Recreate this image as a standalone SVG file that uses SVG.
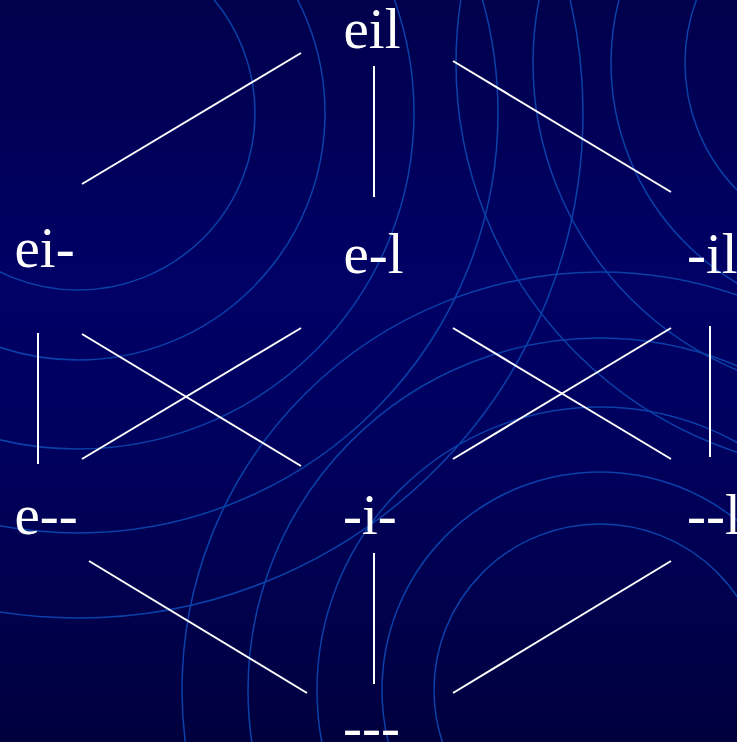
<svg xmlns="http://www.w3.org/2000/svg" width="737" height="742" viewBox="0 0 737 742">
  <defs>
    <linearGradient id="bg" x1="0" y1="0" x2="0" y2="1">
      <stop offset="0" stop-color="#00004c"/>
      <stop offset="0.38" stop-color="#000066"/>
      <stop offset="0.6" stop-color="#00005e"/>
      <stop offset="1" stop-color="#00003e"/>
    </linearGradient>
    <style>
      .arc { fill: none; stroke: #0a40a8; stroke-width: 1.5; }
      .edge { stroke: #ffffff; stroke-width: 2; fill: none; }
      .lbl { font-family: "Liberation Serif", "Times New Roman", serif; font-size: 57px; fill: #ffffff; }
    </style>
  </defs>
  <rect x="0" y="0" width="737" height="742" fill="url(#bg)"/>
  <g id="background-rings">
    <circle class="arc" cx="78" cy="113" r="177"/>
    <circle class="arc" cx="78" cy="113" r="247"/>
    <circle class="arc" cx="78" cy="113" r="336"/>
    <circle class="arc" cx="78" cy="113" r="420"/>
    <circle class="arc" cx="78" cy="113" r="505"/>
    <circle class="arc" cx="866" cy="63" r="181"/>
    <circle class="arc" cx="866" cy="63" r="255"/>
    <circle class="arc" cx="866" cy="63" r="333"/>
    <circle class="arc" cx="866" cy="63" r="410"/>
    <circle class="arc" cx="600" cy="690" r="166"/>
    <circle class="arc" cx="600" cy="690" r="218"/>
    <circle class="arc" cx="600" cy="690" r="283"/>
    <circle class="arc" cx="600" cy="690" r="352"/>
    <circle class="arc" cx="600" cy="690" r="418"/>
  </g>
  <g id="connectors">
    <line class="edge" x1="82" y1="184" x2="301" y2="53"/>
    <line class="edge" x1="374" y1="66" x2="374" y2="197"/>
    <line class="edge" x1="453" y1="61" x2="671" y2="192"/>
    <line class="edge" x1="38" y1="333" x2="38" y2="464"/>
    <line class="edge" x1="82" y1="334" x2="301" y2="466"/>
    <line class="edge" x1="301" y1="328" x2="82" y2="459"/>
    <line class="edge" x1="453" y1="328" x2="671" y2="459"/>
    <line class="edge" x1="671" y1="328" x2="453" y2="459"/>
    <line class="edge" x1="710" y1="326" x2="710" y2="457"/>
    <line class="edge" x1="89" y1="561" x2="307" y2="693"/>
    <line class="edge" x1="374" y1="553" x2="374" y2="684"/>
    <line class="edge" x1="671" y1="561" x2="453" y2="693"/>
  </g>
  <g id="node-eil"><text class="lbl" x="343.5" y="48">eil</text></g>
  <g id="node-ei-"><text class="lbl" x="14.5" y="267">ei-</text></g>
  <g id="node-e-l"><text class="lbl" x="343.5" y="273">e-l</text></g>
  <g id="node--il"><text class="lbl" x="687" y="273">-il</text></g>
  <g id="node-e--"><text class="lbl" x="14.5" y="534">e--</text></g>
  <g id="node--i-"><text class="lbl" x="343" y="534">-i-</text></g>
  <g id="node---l"><text class="lbl" x="687" y="534">--l</text></g>
  <g id="node----"><text class="lbl" x="343" y="746">---</text></g>
</svg>
